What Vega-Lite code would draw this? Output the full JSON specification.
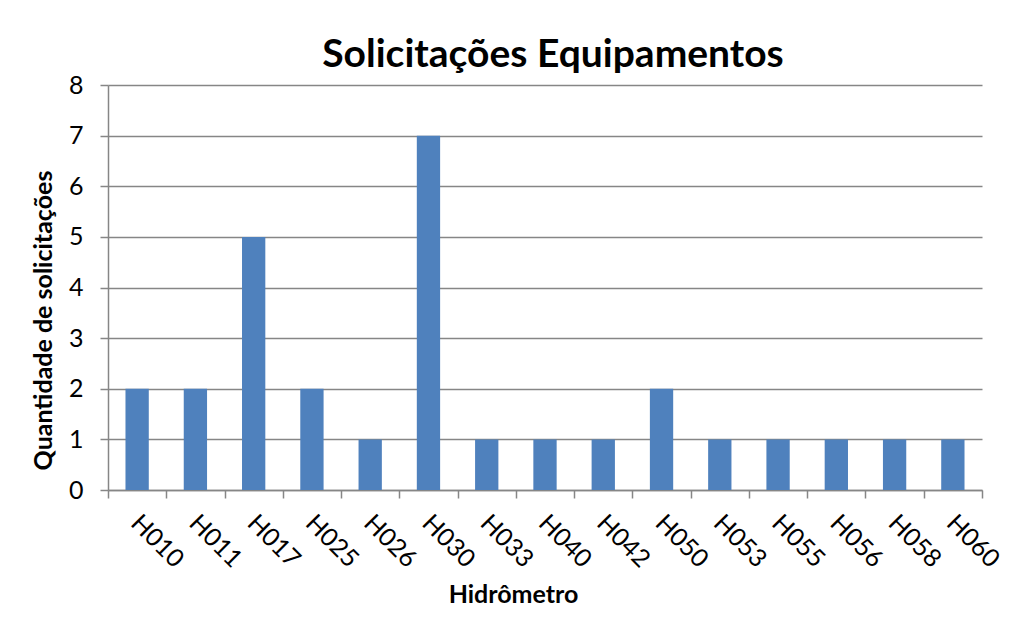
{
  "$schema": "https://vega.github.io/schema/vega-lite/v6.json",
  "autosize": "none",
  "width": 874,
  "height": 405,
  "padding": {"left": 108, "top": 85, "right": 41, "bottom": 127},
  "background": "white",
  "title": {
    "text": "Solicitações Equipamentos",
    "font": "Lato",
    "fontSize": 39,
    "fontWeight": "bold",
    "color": "black",
    "anchor": "middle",
    "frame": "group",
    "dx": 8,
    "offset": -2
  },
  "data": {
    "values": [
      {"hidrometro": "H010", "qtd": 2},
      {"hidrometro": "H011", "qtd": 2},
      {"hidrometro": "H017", "qtd": 5},
      {"hidrometro": "H025", "qtd": 2},
      {"hidrometro": "H026", "qtd": 1},
      {"hidrometro": "H030", "qtd": 7},
      {"hidrometro": "H033", "qtd": 1},
      {"hidrometro": "H040", "qtd": 1},
      {"hidrometro": "H042", "qtd": 1},
      {"hidrometro": "H050", "qtd": 2},
      {"hidrometro": "H053", "qtd": 1},
      {"hidrometro": "H055", "qtd": 1},
      {"hidrometro": "H056", "qtd": 1},
      {"hidrometro": "H058", "qtd": 1},
      {"hidrometro": "H060", "qtd": 1}
    ]
  },
  "mark": {"type": "bar", "color": "#4F81BD", "width": {"band": 0.4}},
  "encoding": {
    "x": {
      "field": "hidrometro",
      "type": "nominal",
      "sort": null,
      "title": "Hidrômetro",
      "scale": {"paddingInner": 0, "paddingOuter": 0},
      "axis": {
        "labelAngle": 45,
        "labelAlign": "left",
        "labelBaseline": "top",
        "labelFont": "Lato",
        "labelFontSize": 25,
        "labelColor": "black",
        "labelPadding": 12,
        "labelOffset": 6,
        "tickBand": "extent",
        "tickSize": 8,
        "tickColor": "#868686",
        "tickWidth": 1.5,
        "domainColor": "#868686",
        "domainWidth": 1.5,
        "titleFont": "Lato",
        "titleFontSize": 25,
        "titleFontWeight": "bold",
        "titleColor": "black",
        "titleX": 405,
        "titleY": 92,
        "titleAlign": "center",
        "titleBaseline": "top"
      }
    },
    "y": {
      "field": "qtd",
      "type": "quantitative",
      "title": "Quantidade de solicitações",
      "scale": {"domain": [0, 8], "nice": false},
      "axis": {
        "values": [0, 1, 2, 3, 4, 5, 6, 7, 8],
        "labelFont": "Lato",
        "labelFontSize": 25,
        "labelColor": "black",
        "labelPadding": 17,
        "tickSize": 8,
        "tickColor": "#868686",
        "tickWidth": 1.5,
        "domainColor": "#868686",
        "domainWidth": 1.5,
        "grid": true,
        "gridColor": "#868686",
        "gridWidth": 1.5,
        "titleFont": "Lato",
        "titleFontSize": 25,
        "titleFontWeight": "bold",
        "titleColor": "black",
        "titleX": -65,
        "titleY": 235,
        "titleAlign": "center",
        "titleBaseline": "middle"
      }
    }
  },
  "config": {
    "view": {"stroke": null}
  }
}
